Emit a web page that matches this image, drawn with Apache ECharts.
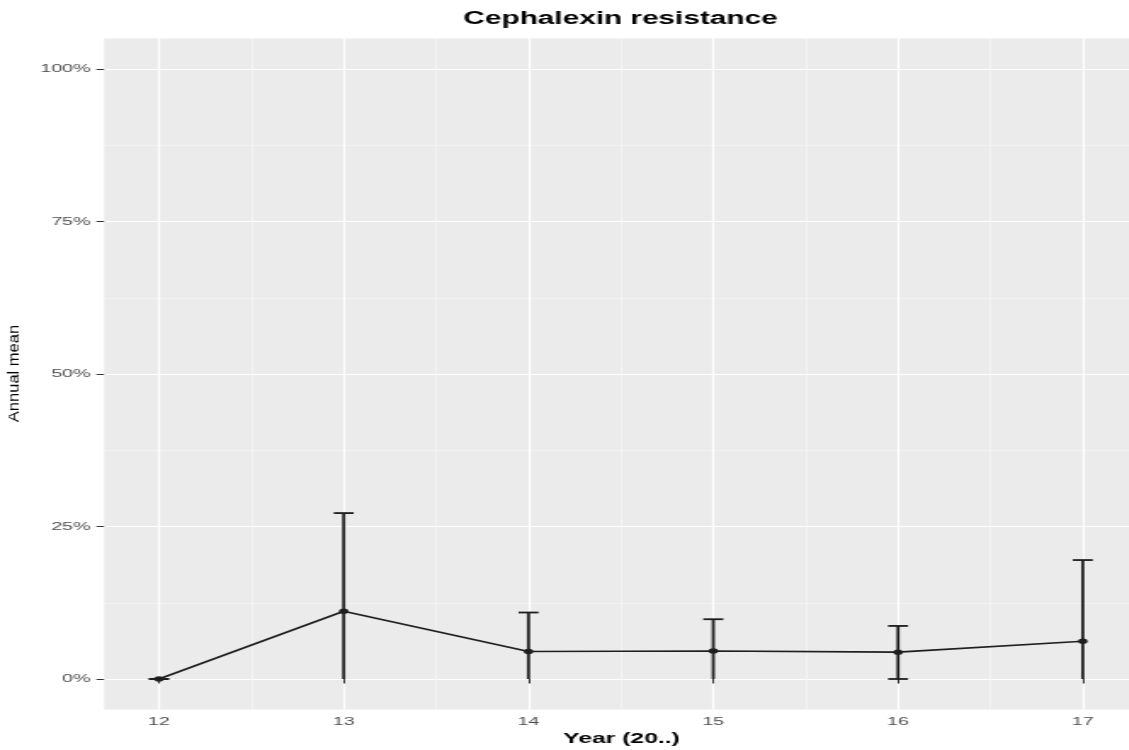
<!DOCTYPE html>
<html>
<head>
<meta charset="utf-8">
<title>Cephalexin resistance</title>
<script src="https://cdn.jsdelivr.net/npm/echarts@6/dist/echarts.min.js"></script>
<style>
  html, body { margin: 0; padding: 0; background: #fff; overflow: hidden; }
  /* the reference picture is stretched sideways, so the chart is too */
  #chart { width: 664px; height: 750px; transform: scaleX(1.7); transform-origin: 0 0; }
</style>
</head>
<body>
<div id="chart"></div>
<script>
  // data (percent)
  const years = [12, 13, 14, 15, 16, 17];
  const means = [0, 11.1, 4.5, 4.6, 4.4, 6.2];
  const upper = [0, 27.2, 10.9, 9.8, 8.7, 19.5];
  const lower = [0, 0, 0, 0, 0, 0];
  // lower cap only drawn where the bar was not cut off at 0
  const lowerCap = [1, 0, 0, 0, 1, 0];

  const yTicks = [0, 25, 50, 75, 100];
  const yMinor = [12.5, 37.5, 62.5, 87.5];
  const xMinor = [12.5, 13.5, 14.5, 15.5, 16.5];

  const capHalf = 0.054; // half width of error bar caps, in years
  const ink = '#1e1e1e';
  const font = 'Liberation Sans';

  const chart = echarts.init(document.getElementById('chart'));

  const option = {
    animation: false,
    grid: {
      left: 61.2,
      right: 0,
      top: 38.5,
      bottom: 40.5,
      show: true,
      backgroundColor: '#EBEBEB',
      borderWidth: 0,
    },
    xAxis: [
      {
        type: 'value',
        min: 11.703,
        max: 17.249,
        axisLine: { show: false },
        axisTick: { customValues: years, length: 4.5, lineStyle: { color: '#333', width: 1 } },
        axisLabel: { customValues: years, color: '#4D4D4D', fontSize: 11.5, fontFamily: font, margin: 6 },
        splitLine: { show: true, lineStyle: { color: '#fff', width: 1.2 } },
      },
      {
        // minor grid lines only
        type: 'value',
        min: 11.703,
        max: 17.249,
        axisLine: { show: false },
        axisTick: { show: false, customValues: xMinor },
        axisLabel: { show: false },
        splitLine: { show: true, lineStyle: { color: '#F6F6F6', width: 0.7 } },
      },
    ],
    yAxis: [
      {
        type: 'value',
        min: -5,
        max: 105,
        axisLine: { show: false },
        axisTick: { customValues: yTicks, length: 4.5, lineStyle: { color: '#333', width: 1 } },
        axisLabel: {
          customValues: yTicks,
          color: '#4D4D4D',
          fontSize: 11.5,
          fontFamily: font,
          margin: 8,
          formatter: '{value}%',
        },
        splitLine: { show: true, lineStyle: { color: '#fff', width: 1.1 } },
      },
      {
        type: 'value',
        min: -5,
        max: 105,
        axisLine: { show: false },
        axisTick: { show: false, customValues: yMinor },
        axisLabel: { show: false },
        splitLine: { show: true, lineStyle: { color: '#F6F6F6', width: 0.6 } },
      },
    ],
    graphic: [
      {
        type: 'text',
        x: 365,
        y: 19,
        style: {
          text: 'Cephalexin resistance',
          font: 'bold 17.5px "Liberation Sans"',
          fill: '#000',
          align: 'center',
          verticalAlign: 'middle',
          textAlign: 'center',
          textVerticalAlign: 'middle',
        },
      },
      {
        type: 'text',
        x: 365.6,
        y: 739,
        style: {
          text: 'Year (20..)',
          font: 'bold 14.5px "Liberation Sans"',
          fill: '#000',
          align: 'center',
          verticalAlign: 'middle',
          textAlign: 'center',
          textVerticalAlign: 'middle',
        },
      },
      {
        type: 'text',
        x: 8.5,
        y: 373.5,
        rotation: Math.PI / 2,
        scaleX: 1.18,
        scaleY: 0.65,
        style: {
          text: 'Annual mean',
          font: '14px "Liberation Sans"',
          fill: '#000',
          align: 'center',
          verticalAlign: 'middle',
          textAlign: 'center',
          textVerticalAlign: 'middle',
        },
      },
    ],
    series: [
      {
        type: 'custom',
        xAxisIndex: 0,
        yAxisIndex: 0,
        z: 3,
        data: years.map((y, i) => [y, lower[i], upper[i], lowerCap[i]]),
        renderItem(params, api) {
          const x = api.value(0);
          const lo = api.value(1);
          const hi = api.value(2);
          const style = { stroke: ink, lineWidth: 1.8, lineCap: 'butt' };
          const top = api.coord([x, hi]);
          const bot = api.coord([x, lo]);
          const tl = api.coord([x - capHalf, hi]);
          const tr = api.coord([x + capHalf, hi]);
          const children = [
            { type: 'line', shape: { x1: top[0], y1: top[1], x2: bot[0], y2: bot[1] }, style },
            { type: 'line', shape: { x1: tl[0], y1: tl[1], x2: tr[0], y2: tr[1] }, style },
          ];
          if (api.value(3)) {
            const bl = api.coord([x - capHalf, lo]);
            const br = api.coord([x + capHalf, lo]);
            children.push({ type: 'line', shape: { x1: bl[0], y1: bl[1], x2: br[0], y2: br[1] }, style });
          }
          return { type: 'group', children };
        },
      },
      {
        type: 'line',
        xAxisIndex: 0,
        yAxisIndex: 0,
        z: 4,
        data: years.map((y, i) => [y, means[i]]),
        symbol: 'circle',
        symbolSize: 5.5,
        lineStyle: { color: ink, width: 1.6 },
        itemStyle: { color: ink },
      },
    ],
  };

  chart.setOption(option);
</script>
</body>
</html>
